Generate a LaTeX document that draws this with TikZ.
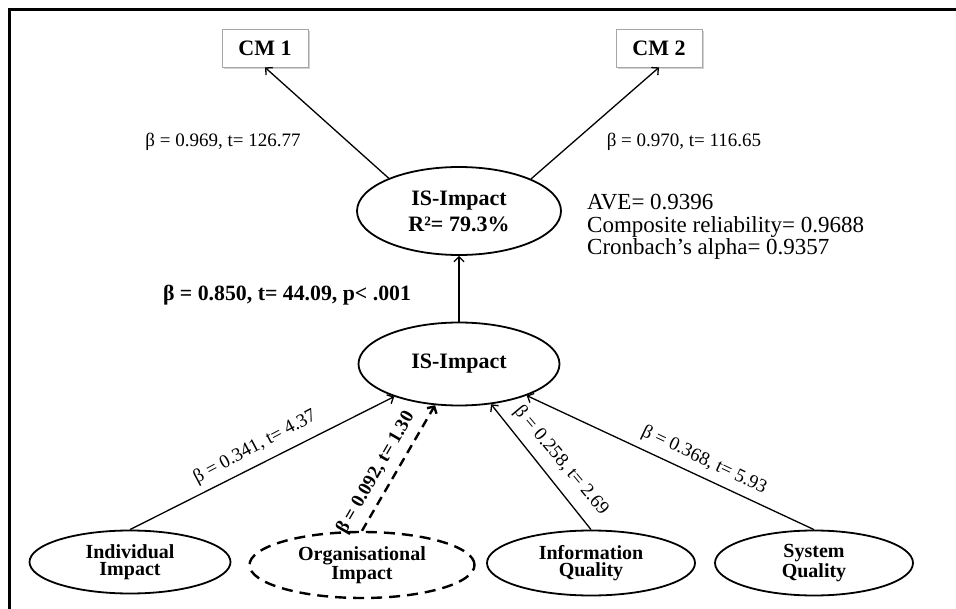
\documentclass[tikz,border=0pt]{standalone}
\usepackage{fontspec}
\setmainfont{Liberation Serif}
\usetikzlibrary{arrows.meta,shapes.geometric,shadows}
\begin{document}
\begin{tikzpicture}[x=1pt,y=-1pt,
  latent/.style={draw, ellipse, line width=1.8pt, inner sep=0pt, align=center,
    font=\fontsize{20}{17.5}\selectfont\bfseries},
  indicator/.style={draw=black!35, fill=white, line width=0.8pt, inner sep=0pt,
    minimum width=86pt, minimum height=38pt,
    drop shadow={shadow xshift=2pt, shadow yshift=-2.5pt, fill=black!35},
    font=\fontsize{22}{22}\selectfont\bfseries},
  link/.style={line width=1.3pt, -{Straight Barb[length=5pt,width=10pt]}},
  weaklink/.style={line width=2.4pt, dash pattern=on 9pt off 6pt,
    -{Straight Barb[length=5pt,width=11pt]}},
  coef/.style={inner sep=0pt, font=\fontsize{19}{19}\selectfont},
  coefbold/.style={inner sep=0pt, font=\fontsize{19}{19}\selectfont\bfseries}]
\useasboundingbox (0,0) rectangle (956,609);

% frame edges
\draw[line width=2.6pt] (9.5,609) -- (9.5,9.5) -- (956,9.5);

% indicators
\node[indicator] (cm1) at (265,48) {CM 1};
\node[indicator] (cm2) at (659,48) {CM 2};

% second-order construct and its first-order estimate
\node[latent, minimum width=204pt, minimum height=88pt,
  font=\fontsize{22}{26}\selectfont\bfseries] (top) at (459,211) {IS-Impact\\R²= 79.3\%};
\node[latent, minimum width=201pt, minimum height=83pt,
  font=\fontsize{22}{22}\selectfont\bfseries] (mid) at (459,364) {IS-Impact};

% dimensions
\node[latent, minimum width=201pt, minimum height=63pt] (ind) at (130,562) {Individual\\Impact};
\node[latent, minimum width=225pt, minimum height=66pt, dash pattern=on 11pt off 7pt,
  line width=2.4pt] (org) at (362,565) {Organisational\\Impact};
\node[latent, minimum width=208pt, minimum height=65pt] (info) at (591,563) {Information\\Quality};
\node[latent, minimum width=198pt, minimum height=65pt] (sys) at (814,563) {System\\Quality};

% loadings
\draw[link] (top.155) -- (cm1.south);
\draw[link] (top.24) -- (cm2.south);
\node[coef] (l1) at (223,142) {β = 0.969, t= 126.77};
\node[coef] (l2) at (684,142) {β = 0.970, t= 116.65};

% structural path
\draw[link] (mid.north) -- (top.south);
\node[inner sep=0pt, font=\fontsize{21.8}{21.8}\selectfont\bfseries] (p0) at (287,295)
  {β = 0.850, t= 44.09, p< .001};

% quality criteria (base anchor sits on the last line)
\node[inner sep=0pt, anchor=base west, align=left,
  font=\fontsize{23}{22.5}\selectfont] (crit) at (587,255)
  {AVE= 0.9396\\Composite reliability= 0.9688\\Cronbach’s alpha= 0.9357};

% dimension paths
\draw[link] (ind.north) -- (mid);
\draw[weaklink] (org.north) -- (mid);
\draw[link] (info.north) -- (mid);
\draw[link] (sys.north) -- (mid);

\node[coef, rotate=28] (l3) at (255,447) {β = 0.341, t= 4.37};
\node[coefbold, rotate=60] (l4) at (376,473) {β = 0.092, t= 1.30};
\node[coef, rotate=-50] (l5) at (561,461) {β = 0.258, t= 2.69};
\node[coef, rotate=-25.4] (l6) at (704,460) {β = 0.368, t= 5.93};
\end{tikzpicture}
\end{document}
